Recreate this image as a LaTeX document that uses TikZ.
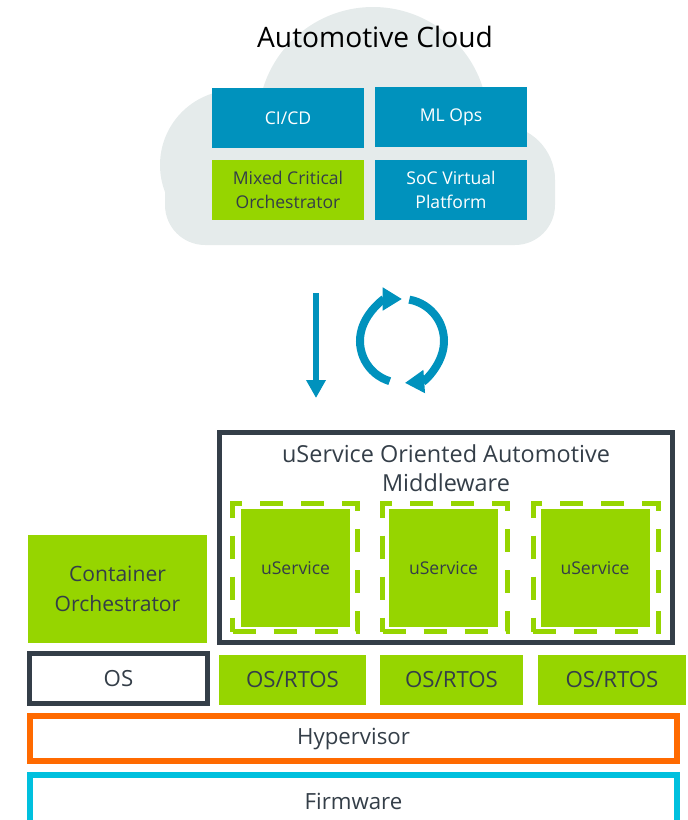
\documentclass[tikz,border=0pt]{standalone}
\usepackage{fontspec}
\setmainfont{Open Sans}
\usetikzlibrary{arrows.meta}
\definecolor{cloudgray}{RGB}{229,235,235}
\definecolor{boxblue}{RGB}{0,146,189}
\definecolor{boxgreen}{RGB}{150,213,0}
\definecolor{darkslate}{RGB}{52,62,72}
\definecolor{hyperorange}{RGB}{255,106,0}
\definecolor{firmcyan}{RGB}{0,192,222}
\begin{document}
\begin{tikzpicture}[x=0.03cm,y=-0.03cm,
        cloud box/.style={fill=boxblue,text=white,align=center,inner sep=0pt,font=\fontsize{15}{21}\selectfont,minimum width=4.56cm,minimum height=1.82cm},
        green box/.style={fill=boxgreen,text=darkslate,align=center,inner sep=0pt},
        service frame/.style={draw=boxgreen,line width=0.15cm,dash pattern=on 0.69cm off 0.54cm,minimum width=3.75cm,minimum height=3.84cm,inner sep=0pt},
        layer box/.style={draw,fill=white,text=darkslate,inner sep=0pt,font=\fontsize{19}{23}\selectfont},
        cycle arrow/.style={draw=boxblue,line width=0.24cm,-{Triangle[length=0.58cm,width=0.66cm]}}]
        \useasboundingbox (0,0) rectangle (687,820);

        % cloud
        \fill[cloudgray] (373,122) circle[radius=115];
        \fill[cloudgray] (235,165) circle[radius=75];
        \fill[cloudgray] (500,180) circle[radius=55];
        \fill[cloudgray,rounded corners=1.2cm] (165,140) rectangle (555,245);
        \node[text=black,font=\fontsize{24}{28}\selectfont] at (375,37) (title) {Automotive Cloud};

        \node[cloud box] at (288,118) (cicd) {CI/CD};
        \node[cloud box] at (451,117) (mlops) {ML Ops};
        \node[cloud box,green box] at (288,190) (mco) {Mixed Critical\\Orchestrator};
        \node[cloud box] at (451,190) (soc) {SoC Virtual\\Platform};

        % deploy and update arrows
        \coordinate (deploy top) at (316,293);
        \coordinate (deploy end) at (316,398);
        \coordinate (loop c) at (402,341);
        \draw[draw=boxblue,line width=0.18cm,-{Triangle[length=0.54cm,width=0.56cm]}] (deploy top) -- (deploy end);
        \draw[cycle arrow] (loop c) ++(107:42) arc[start angle=107,end angle=270,radius=42];
        \draw[cycle arrow] (loop c) ++(280:42) arc[start angle=280,end angle=446,radius=42];

        % middleware
        \node[draw=darkslate,line width=0.15cm,minimum width=13.59cm,minimum height=6.3cm,inner sep=0pt] at (446,537.5) (mw) {};
        \node[text=darkslate,align=center,font=\fontsize{20}{25}\selectfont] at (446,468) (mw title) {uService Oriented Automotive\\Middleware};
        \node[service frame] at (295,567.5) (f1) {};
        \node[service frame] at (445,567.5) (f2) {};
        \node[service frame] at (595.5,567.5) (f3) {};
        \node[green box,minimum width=3.27cm,minimum height=3.54cm,font=\fontsize{15}{18}\selectfont] at (295.5,568) (us1) {uService};
        \node[green box,minimum width=3.27cm,minimum height=3.54cm,font=\fontsize{15}{18}\selectfont] at (443.5,568) (us2) {uService};
        \node[green box,minimum width=3.27cm,minimum height=3.54cm,font=\fontsize{15}{18}\selectfont] at (595,568) (us3) {uService};

        \node[green box,minimum width=5.37cm,minimum height=3.24cm,font=\fontsize{18}{26}\selectfont] at (117.5,589) (co) {Container\\Orchestrator};

        % os row
        \node[layer box,draw=darkslate,line width=0.15cm,minimum width=5.34cm,minimum height=1.5cm] at (118.5,678.5) (os) {OS};
        \node[green box,minimum width=4.41cm,minimum height=1.5cm,font=\fontsize{19}{23}\selectfont] at (292.5,680) (rtos1) {OS/RTOS};
        \node[green box,minimum width=4.29cm,minimum height=1.5cm,font=\fontsize{19}{23}\selectfont] at (451.5,680) (rtos2) {OS/RTOS};
        \node[green box,minimum width=4.44cm,minimum height=1.5cm,font=\fontsize{19}{23}\selectfont] at (612,680) (rtos3) {OS/RTOS};

        % hypervisor and firmware
        \node[layer box,draw=hyperorange,line width=0.18cm,minimum width=19.41cm,minimum height=1.35cm] at (353.5,738.5) (hv) {Hypervisor};
        \node[layer box,draw=firmcyan,line width=0.18cm,minimum width=19.41cm,minimum height=1.56cm] at (353.5,801) (fw) {Firmware};
        \end{tikzpicture}
\end{document}
